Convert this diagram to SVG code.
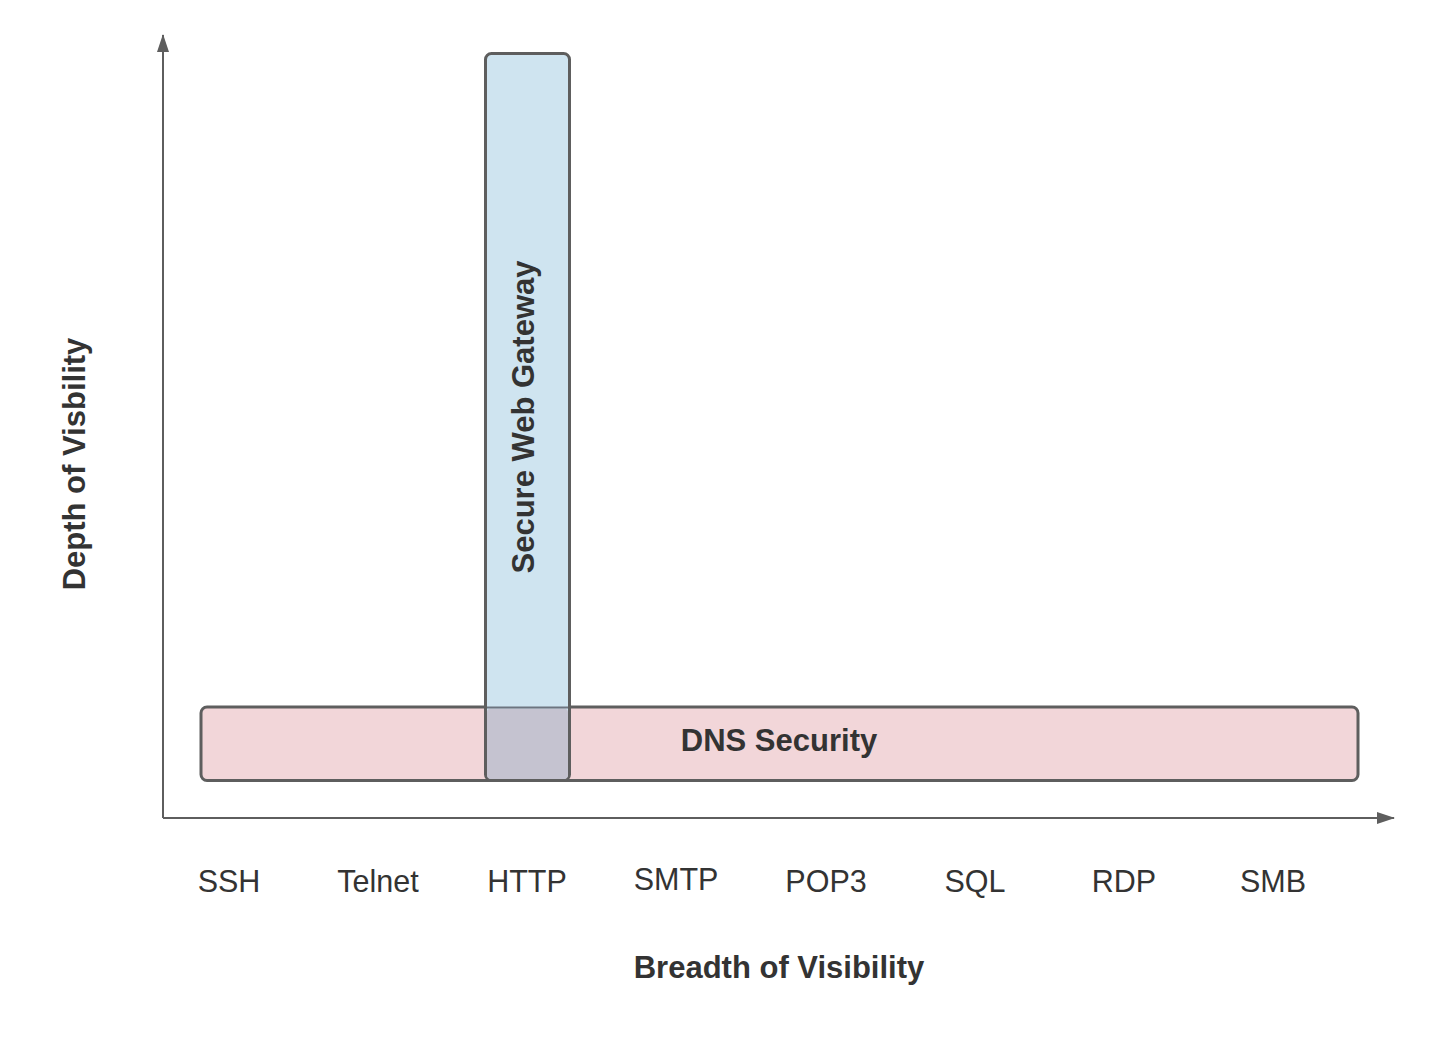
<svg xmlns="http://www.w3.org/2000/svg" width="1430" height="1052" viewBox="0 0 1430 1052">
<defs>
<style>
.box{stroke:#5e5e5e;stroke-width:3}
.b{font-family:"Liberation Sans",Arial,sans-serif;font-weight:bold;font-size:31px;fill:#333;text-anchor:middle}
.r{font-family:"Liberation Sans",Arial,sans-serif;font-size:30.5px;fill:#333;text-anchor:middle}
.ax{stroke:#5e5e5e;stroke-width:2;fill:none}
</style>
<marker id="ah" viewBox="0 0 18 12" refX="17" refY="6" markerWidth="18" markerHeight="12" markerUnits="userSpaceOnUse" orient="auto">
<path d="M0,0 L18,6 L0,12 Z" fill="#5e5e5e"/>
</marker>
</defs>
<rect width="1430" height="1052" fill="#fff"/>
<g id="connectors">
<line class="ax" x1="163" y1="818" x2="163" y2="35" marker-end="url(#ah)"/>
<line class="ax" x1="163" y1="818" x2="1394" y2="818" marker-end="url(#ah)"/>
</g>
<g id="dns">
<rect class="box" x="201" y="707" width="1157" height="73.5" rx="6" fill="#f2d6d9"/>
</g>
<g id="swg">
<rect class="box" x="485.5" y="53.5" width="84" height="727" rx="6" fill="#cfe4f0"/>
<rect x="487" y="708.5" width="81" height="70.5" rx="4" fill="#c5c3d0"/>
<line x1="487" y1="707.5" x2="568" y2="707.5" stroke="#6d7480" stroke-width="2"/>
<text class="b" transform="translate(534 417) rotate(-90)">Secure Web Gateway</text>
</g>
<g id="dns-label">
<text class="b" x="779" y="751">DNS Security</text>
</g>
<g id="y-label">
<text class="b" transform="translate(85 464) rotate(-90)">Depth of Visbility</text>
</g>
<g id="x-label">
<text class="b" x="779" y="978">Breadth of Visibility</text>
</g>
<g id="protocols">
<text class="r" x="229" y="892">SSH</text>
<text class="r" x="378" y="892">Telnet</text>
<text class="r" x="527" y="892">HTTP</text>
<text class="r" x="676" y="890">SMTP</text>
<text class="r" x="826" y="892">POP3</text>
<text class="r" x="975" y="892">SQL</text>
<text class="r" x="1124" y="892">RDP</text>
<text class="r" x="1273" y="892">SMB</text>
</g>
</svg>
